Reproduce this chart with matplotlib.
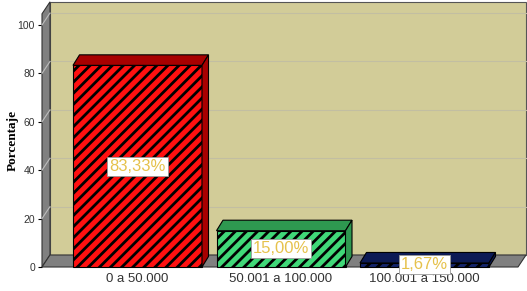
import matplotlib.pyplot as plt
from matplotlib.patches import Polygon, Rectangle

categories = ['0 a 50.000', '50.001 a 100.000', '100.001 a 150.000']
values = [83.33, 15.00, 1.67]
labels = ['83,33%', '15,00%', '1,67%']
yticks = [0, 20, 40, 60, 80, 100]

front_colors = ['#FF1010', '#40D878', '#14246A']
dark_colors = ['#A80000', '#2E9850', '#0C1A55']

plt.rcParams['font.family'] = ['Liberation Sans', 'DejaVu Sans']
plt.rcParams['hatch.linewidth'] = 2.0

fig = plt.figure(figsize=(5.27, 2.91), dpi=100)
ax = fig.add_axes([0, 0, 1, 1])

# pixel -> data helpers for layout
def px(p):
    return (p - 137.5) / 143.5

ax.set_xlim(px(0), px(527))
ax.set_ylim(-24 / 2.42, 267 / 2.42)

x0, x1 = px(42), px(518)
top = 104.6
dx, dy = 8 / 143.5, 12 / 2.42       # wall depth
bdx, bdy = 6.5 / 143.5, 10.5 / 2.42  # bar depth

# back wall
ax.add_patch(Rectangle((x0 + dx, dy), x1 - x0, top, facecolor='#D2CC98',
                       edgecolor='#555555', lw=0.8, zorder=1))
# left wall and floor
ax.add_patch(Polygon([(x0, 0), (x0, top), (x0 + dx, top + dy), (x0 + dx, dy)],
                     facecolor='#808080', edgecolor='#333333', lw=0.8, zorder=2))
ax.add_patch(Polygon([(x0, 0), (x1, 0), (x1 + dx, dy), (x0 + dx, dy)],
                     facecolor='#808080', edgecolor='#333333', lw=0.8, zorder=2))

# gridlines
for t in yticks[1:]:
    ax.plot([x0 + dx, x1 + dx], [t + dy, t + dy], color='#C2BEA2', lw=0.8, zorder=1.5)
    ax.plot([x0, x0 + dx], [t, t + dy], color='#BDBDBD', lw=0.8, zorder=2.5)

# bars
xs = list(range(len(values)))
w = 129 / 143.5
ax.bar(xs, values, width=w, color=front_colors, edgecolor='black',
       hatch='///', lw=0.8, zorder=4)
for x, v, dc in zip(xs, values, dark_colors):
    l, r = x - w / 2, x + w / 2
    ax.add_patch(Polygon([(l, v), (r, v), (r + bdx, v + bdy), (l + bdx, v + bdy)],
                         facecolor=dc, edgecolor='black', lw=0.8, zorder=4))
    ax.add_patch(Polygon([(r, 0), (r, v), (r + bdx, v + bdy), (r + bdx, bdy)],
                         facecolor=dc, edgecolor='black', lw=0.8, zorder=4))

for x, v, s in zip(xs, values, labels):
    ax.text(x, v / 2, s, ha='center', va='center', fontsize=12, color='#E6C24C',
            zorder=6, bbox=dict(boxstyle='square,pad=0.12', facecolor='white',
                                edgecolor='#999999', lw=0.6))

# axes
for s in ['top', 'right']:
    ax.spines[s].set_visible(False)
ax.spines['left'].set_position(('data', x0))
ax.spines['left'].set_visible(False)
ax.spines['bottom'].set_position(('data', 0))
ax.spines['bottom'].set_visible(False)
ax.set_yticks(yticks)
ax.tick_params(axis='y', length=3, labelsize=7.5, labelcolor='#333333', pad=2)
ax.set_xticks(xs)
ax.set_xticklabels(categories)
ax.tick_params(axis='x', length=0, labelsize=9.5, labelcolor='#333333', pad=4)

fig.text(13 / 527, 1 - 140 / 291, 'Porcentaje', rotation=90, ha='center', va='center',
         fontsize=9.5, fontweight='bold', family='Liberation Serif')

fig.savefig('out.png', dpi=100)
